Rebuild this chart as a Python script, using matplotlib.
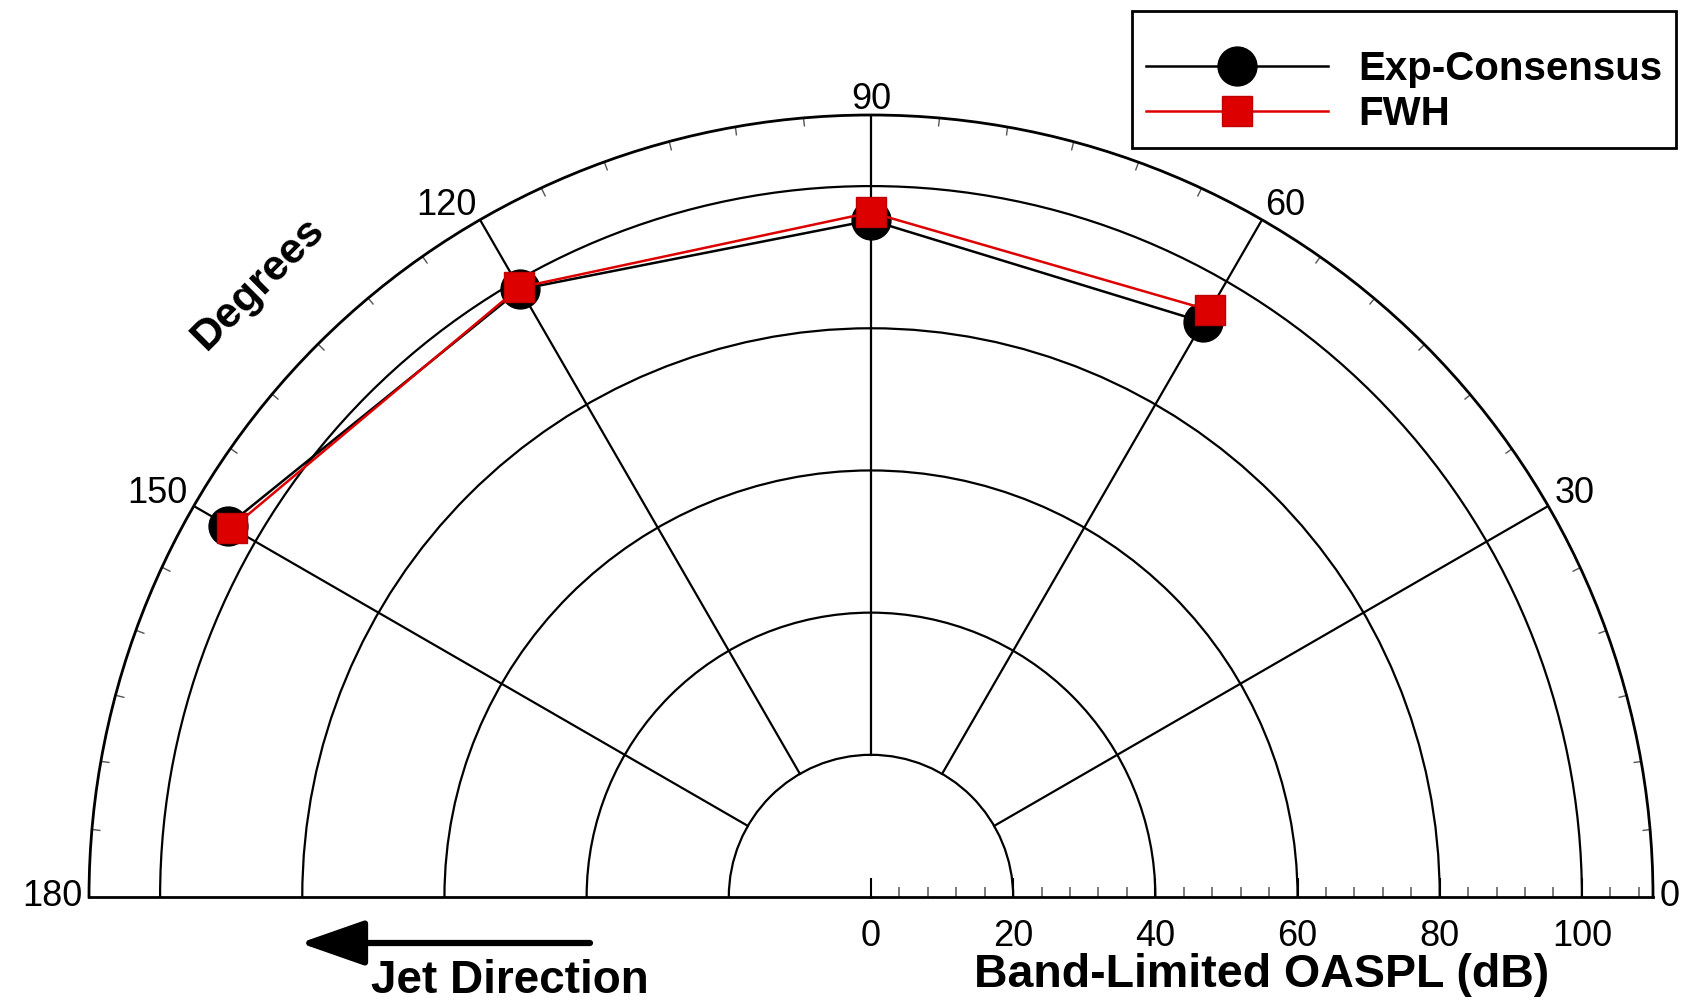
import numpy as np
import matplotlib
matplotlib.use("Agg")
import matplotlib.pyplot as plt
from matplotlib.ticker import MultipleLocator, NullFormatter
from matplotlib.transforms import ScaledTranslation

plt.rcParams['font.family'] = ['Liberation Sans', 'DejaVu Sans']

# Data: observer angle (deg) vs band-limited OASPL (dB)
angles = [60, 90, 120, 150]
exp_consensus = [93.4, 95.2, 98.7, 104.5]
fwh = [95.3, 96.3, 99.0, 103.8]

theta_labels = [0, 30, 60, 90, 120, 150, 180]
spoke_angles = [30, 60, 90, 120, 150]
r_ticks = [0, 20, 40, 60, 80, 100]
r_inner = 20
r_max = 110

fig = plt.figure(figsize=(16.9, 10.01), dpi=100)
# half-disc is centred vertically in a square box -> square box of side 2R
cx, cy, R = 871, 897, 782
ax = fig.add_axes([(cx - R) / 1690, (1001 - (cy - R / 2) - R) / 1001,
                   2 * R / 1690, 2 * R / 1001], projection='polar')
ax.set_thetamin(0)
ax.set_thetamax(180)
ax.set_rlim(0, r_max)

# rings
ax.set_yticks(r_ticks)
ax.yaxis.set_minor_locator(MultipleLocator(4))
ax.yaxis.set_major_formatter(NullFormatter())
ax.yaxis.grid(True, color='black', lw=1.6)
ax.tick_params(axis='y', which='major', direction='in', length=14, width=1.5, color='black')
ax.tick_params(axis='y', which='minor', direction='in', length=7, width=1.1, color='#555555')
ax.tick_params(axis='y', which='both', left=True, right=False)

# angular ticks (outer arc only)
ax.set_xticks(np.deg2rad(theta_labels))
ax.xaxis.set_minor_locator(MultipleLocator(np.deg2rad(5)))
ax.xaxis.set_major_formatter(NullFormatter())
ax.xaxis.grid(False)
ax.tick_params(axis='x', which='major', length=0)
ax.tick_params(axis='x', which='minor', direction='in', length=6, width=1.0, color='#555555')
ax.tick_params(axis='x', which='both', bottom=False, top=True)

for sp in ['polar', 'start', 'end']:
    ax.spines[sp].set_linewidth(2)
    ax.spines[sp].set_color('black')

# spokes
for a in spoke_angles:
    ax.plot([np.deg2rad(a)] * 2, [r_inner, r_max], color='black', lw=1.6, zorder=2)

# series
th = np.deg2rad(angles)
ax.plot(th, exp_consensus, '-o', color='black', lw=1.8, ms=28, label='Exp-Consensus', zorder=5, clip_on=False)
ax.plot(th, fwh, '-s', color='#dd0000', mec='#c00000', lw=1.8, ms=22, label='FWH', zorder=6, clip_on=False)

# angle labels around the arc
for a in theta_labels:
    t = np.deg2rad(a)
    c, s = np.cos(t), np.sin(t)
    ha = 'left' if c > 0.01 else ('right' if c < -0.01 else 'center')
    va = 'baseline' if s > 0.01 else 'center'
    off = ScaledTranslation(5/72 * c, 4/72 * s, fig.dpi_scale_trans)
    ax.text(t, r_max, str(a), ha=ha, va=va, fontsize=26,
            transform=ax.transData + off, clip_on=False)

# radial labels below the baseline
for r in r_ticks:
    off = ScaledTranslation(0, -16/72, fig.dpi_scale_trans)
    ax.text(0, r, str(r), ha='center', va='top', fontsize=26,
            transform=ax.transData + off, clip_on=False)

ax.text(np.deg2rad(135), 122, 'Degrees', rotation=45, rotation_mode='anchor',
        ha='center', va='center', fontsize=31, fontweight='bold', clip_on=False)

fig.text(1262/1690, 1 - 975/1001, 'Band-Limited OASPL (dB)', ha='center', va='center',
         fontsize=33.5, fontweight='bold')
fig.text(510/1690, 1 - 981/1001, 'Jet Direction', ha='center', va='center',
         fontsize=33, fontweight='bold')
ax.annotate('', xy=(300/1690, 1 - 943/1001), xytext=(590/1690, 1 - 943/1001),
            xycoords='figure fraction', textcoords='figure fraction',
            arrowprops=dict(arrowstyle='-|>,head_length=0.8,head_width=0.28',
                            mutation_scale=50, lw=4.5, color='black',
                            shrinkA=0, shrinkB=0))

leg = ax.legend(loc='upper right', bbox_to_anchor=(1676/1690, 1 - 11/1001),
                bbox_transform=fig.transFigure, borderaxespad=0,
                prop={'weight': 'bold', 'size': 29}, handlelength=4.5,
                handletextpad=0.75, borderpad=0.35, labelspacing=0.19,
                title=' ', title_fontsize=13,
                fancybox=False, edgecolor='black', framealpha=1)
leg.get_frame().set_linewidth(2)

fig.savefig('out.png', dpi=100)
